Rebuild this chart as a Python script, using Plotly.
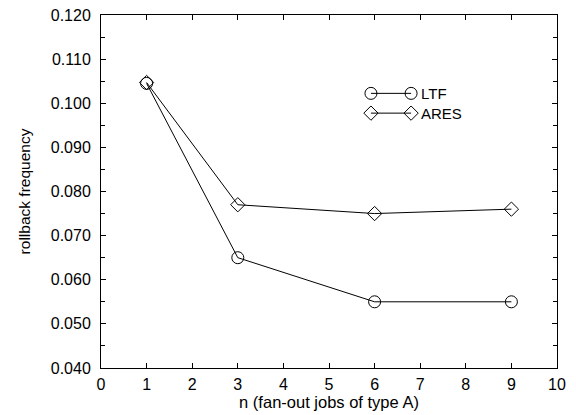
import plotly.graph_objects as go

n_values = [1, 3, 6, 9]
ltf = [0.1045, 0.065, 0.055, 0.055]
ares = [0.1047, 0.077, 0.075, 0.076]
x_ticks = list(range(0, 11))
y_ticks = [0.04, 0.05, 0.06, 0.07, 0.08, 0.09, 0.10, 0.11, 0.12]

FONT = "Liberation Sans, Arial, sans-serif"

fig = go.Figure()
fig.add_trace(go.Scatter(x=n_values, y=ltf, mode="lines+markers", name="LTF",
                         line=dict(color="black", width=1),
                         marker=dict(symbol="circle-open", size=12, color="black", line=dict(width=1))))
fig.add_trace(go.Scatter(x=n_values, y=ares, mode="lines+markers", name="ARES",
                         line=dict(color="black", width=1),
                         marker=dict(symbol="diamond-open", size=11, color="black", line=dict(width=1))))

# legend samples drawn on an overlay axis (0..1 coordinates of the plot area)
leg_x = [0.592, 0.68]
leg_names = ["LTF", "ARES"]
leg_y = [0.778, 0.722]
leg_symbols = ["circle-open", "diamond-open"]
leg_sizes = [12, 11]
for name, yy, sym, sz in zip(leg_names, leg_y, leg_symbols, leg_sizes):
    fig.add_trace(go.Scatter(x=leg_x, y=[yy, yy], xaxis="x2", yaxis="y2", mode="lines+markers",
                             showlegend=False, hoverinfo="skip",
                             line=dict(color="black", width=1),
                             marker=dict(symbol=sym, size=sz, color="black", line=dict(width=1))))
    fig.add_annotation(x=0.697, y=yy, xref="x2", yref="y2", text=name, showarrow=False,
                       xanchor="left", yanchor="middle", font=dict(family=FONT, size=15, color="black"))

# the page body adds an 8px offset, so the figure is 8px smaller and margins shifted
fig.update_layout(
    width=568, height=407,
    margin=dict(l=93, r=19, t=7, b=47),
    paper_bgcolor="white", plot_bgcolor="white",
    showlegend=False,
    font=dict(family=FONT, size=16, color="black"),
    xaxis=dict(range=[0, 10], tickvals=x_ticks, ticktext=[str(v) for v in x_ticks],
               ticks="inside", ticklen=5, tickcolor="black", showline=True, linecolor="black",
               linewidth=1, mirror="ticks", showgrid=False, zeroline=False, automargin=False,
               ticklabeloverflow="allow", ticklabelstandoff=2,
               title=dict(text="n (fan-out jobs of type A)", font=dict(size=16.5), standoff=4),
               tickfont=dict(size=16),
               minor=dict(ticks="", showgrid=False)),
    yaxis=dict(range=[0.04, 0.12], tickvals=y_ticks, ticktext=[f"{v:.3f}" for v in y_ticks],
               ticks="inside", ticklen=5, tickcolor="black", showline=True, linecolor="black",
               linewidth=1, mirror="ticks", showgrid=False, zeroline=False, automargin=False,
               ticklabeloverflow="allow", ticklabelstandoff=6,
               title=dict(text="rollback frequency", font=dict(size=15.5), standoff=16),
               tickfont=dict(size=16),
               minor=dict(dtick=0.005, ticks="inside", ticklen=4, tickcolor="black", showgrid=False)),
    xaxis2=dict(range=[0, 1], overlaying="x", visible=False, fixedrange=True),
    yaxis2=dict(range=[0, 1], overlaying="y", visible=False, fixedrange=True),
)

fig.write_html("out.html")
